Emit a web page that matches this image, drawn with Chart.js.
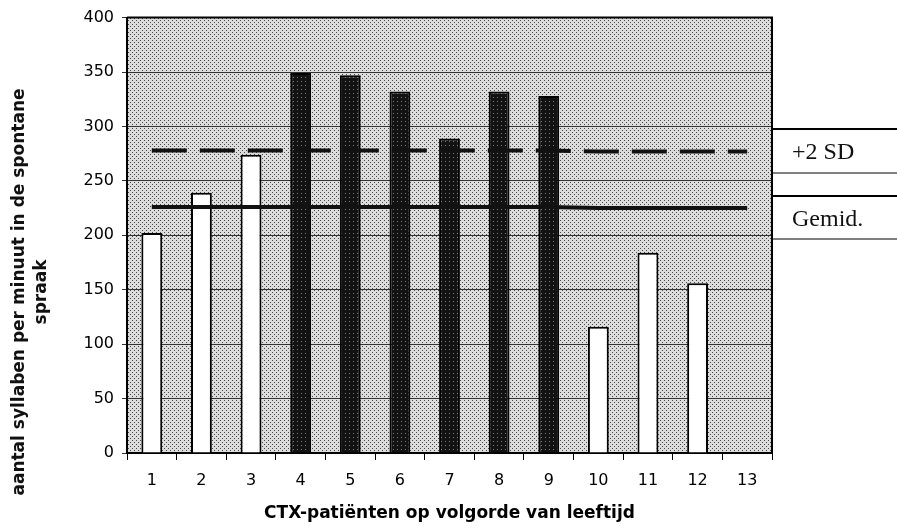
<!DOCTYPE html>
<html>
<head>
<meta charset="utf-8">
<script src="https://cdn.jsdelivr.net/npm/chart.js@4"></script>
<style>
  html, body { margin: 0; padding: 0; background: #fff; }
  #wrap { position: relative; width: 897px; height: 528px; }
</style>
</head>
<body>
<div id="wrap"><canvas id="c" width="897" height="528"></canvas></div>
<script>
// ---- data
const patients = ["1", "2", "3", "4", "5", "6", "7", "8", "9", "10", "11", "12", "13"];
const syllables = [202, 239, 274, 349, 347, 332, 289, 332, 328, 116, 184, 156, null];
const isDark    = [false, false, false, true, true, true, true, true, true, false, false, false, false];
const meanLine  = [226, 226, 226, 226, 226, 226, 226, 226, 226, 225, 225, 225, 225];
const sd2Line   = [278, 278, 278, 278, 278, 278, 278, 278, 278, 277, 277, 277, 277];
const legendLabels = ["+2 SD", "Gemid."];
const yTitle = ["aantal syllaben per minuut in de spontane", "spraak"];

const SANS = "'DejaVu Sans', 'Liberation Sans', Arial, sans-serif";

// ---- stippled fills (the scanned halftone look)
function stipple(base, dot, cells) {
  const p = document.createElement("canvas");
  p.width = 4; p.height = 4;
  const g = p.getContext("2d");
  g.fillStyle = base; g.fillRect(0, 0, 4, 4);
  g.fillStyle = dot;
  cells.forEach(([x, y]) => g.fillRect(x, y, 1, 1));
  return g.createPattern(p, "repeat");
}
const bgFill   = stipple("#dcdcdc", "#4a4a4a", [[0, 0], [2, 2]]);
const darkFill = stipple("#121212", "#7a7a7a", [[1, 1]]);

const frame = {
  id: "frame",
  beforeDraw(chart) {
    const { ctx, chartArea: a } = chart;
    ctx.save();
    ctx.fillStyle = bgFill;
    ctx.fillRect(a.left, a.top, a.right - a.left, a.bottom - a.top);
    ctx.restore();
  },
  afterDraw(chart) {
    const { ctx, chartArea: a } = chart;
    ctx.save();
    ctx.strokeStyle = "#000";
    ctx.lineWidth = 2;
    ctx.beginPath();
    ctx.moveTo(a.left, a.top); ctx.lineTo(a.right, a.top); ctx.lineTo(a.right, a.bottom);
    ctx.stroke();
    // legend boxes on the right
    const boxTop1 = 129, boxBot1 = 173, boxTop2 = 196, boxBot2 = 239;
    [[boxTop1, 2], [boxBot1, 1], [boxTop2, 2], [boxBot2, 1]].forEach(([yy, w]) => {
      ctx.lineWidth = w;
      ctx.beginPath(); ctx.moveTo(a.right, yy); ctx.lineTo(897, yy); ctx.stroke();
    });
    ctx.fillStyle = "#111";
    ctx.font = "24px 'Liberation Serif', 'DejaVu Serif', serif";
    ctx.textBaseline = "middle";
    ctx.fillText(legendLabels[0], a.right + 20, 153);
    ctx.fillText(legendLabels[1], a.right + 20, 220);
    // y-axis title, two rotated lines
    ctx.font = "bold 17px " + SANS;
    ctx.textAlign = "center";
    ctx.translate(0, 292);
    ctx.rotate(-Math.PI / 2);
    ctx.fillText(yTitle[0], 0, 20);
    ctx.fillText(yTitle[1], 0, 42);
    ctx.restore();
  },
};

new Chart(document.getElementById("c"), {
  data: {
    labels: patients,
    datasets: [
      { type: "line", label: "+2 SD", data: sd2Line, borderColor: "#111", borderWidth: 4,
        borderDash: [35, 13], pointRadius: 0, order: 0 },
      { type: "line", label: "Gemid.", data: meanLine, borderColor: "#111", borderWidth: 4,
        pointRadius: 0, order: 0 },
      { type: "bar", label: "syllaben", data: syllables,
        backgroundColor: isDark.map(d => d ? darkFill : "#ffffff"),
        borderColor: "#000", borderWidth: 2,
        barPercentage: 0.42, categoryPercentage: 1, order: 1 },
    ],
  },
  options: {
    responsive: false, animation: false,
    layout: { padding: { top: 12, right: 125, left: 0, bottom: 0 } },
    plugins: { legend: { display: false }, tooltip: { enabled: false } },
    scales: {
      x: {
        offset: true,
        grid: { offset: true, drawOnChartArea: false, drawTicks: true, tickLength: 7, color: "#000", lineWidth: 1 },
        border: { display: true, color: "#000", width: 2 },
        ticks: { color: "#000", padding: 11, font: { family: SANS, size: 16 } },
        title: { display: true, text: "CTX-patiënten op volgorde van leeftijd", color: "#000",
          font: { family: SANS, size: 17, weight: "bold" }, padding: { top: 6 } },
        afterFit(s) { s.height = 75; },
      },
      y: {
        min: 0, max: 400,
        ticks: { stepSize: 50, color: "#000", padding: 8, font: { family: SANS, size: 16 } },
        grid: { color: "#333", lineWidth: 1, drawTicks: true, tickLength: 5 },
        border: { display: true, color: "#000", width: 2 },
        afterFit(s) { s.width = 127; },
      },
    },
  },
  plugins: [frame],
});
</script>
</body>
</html>
